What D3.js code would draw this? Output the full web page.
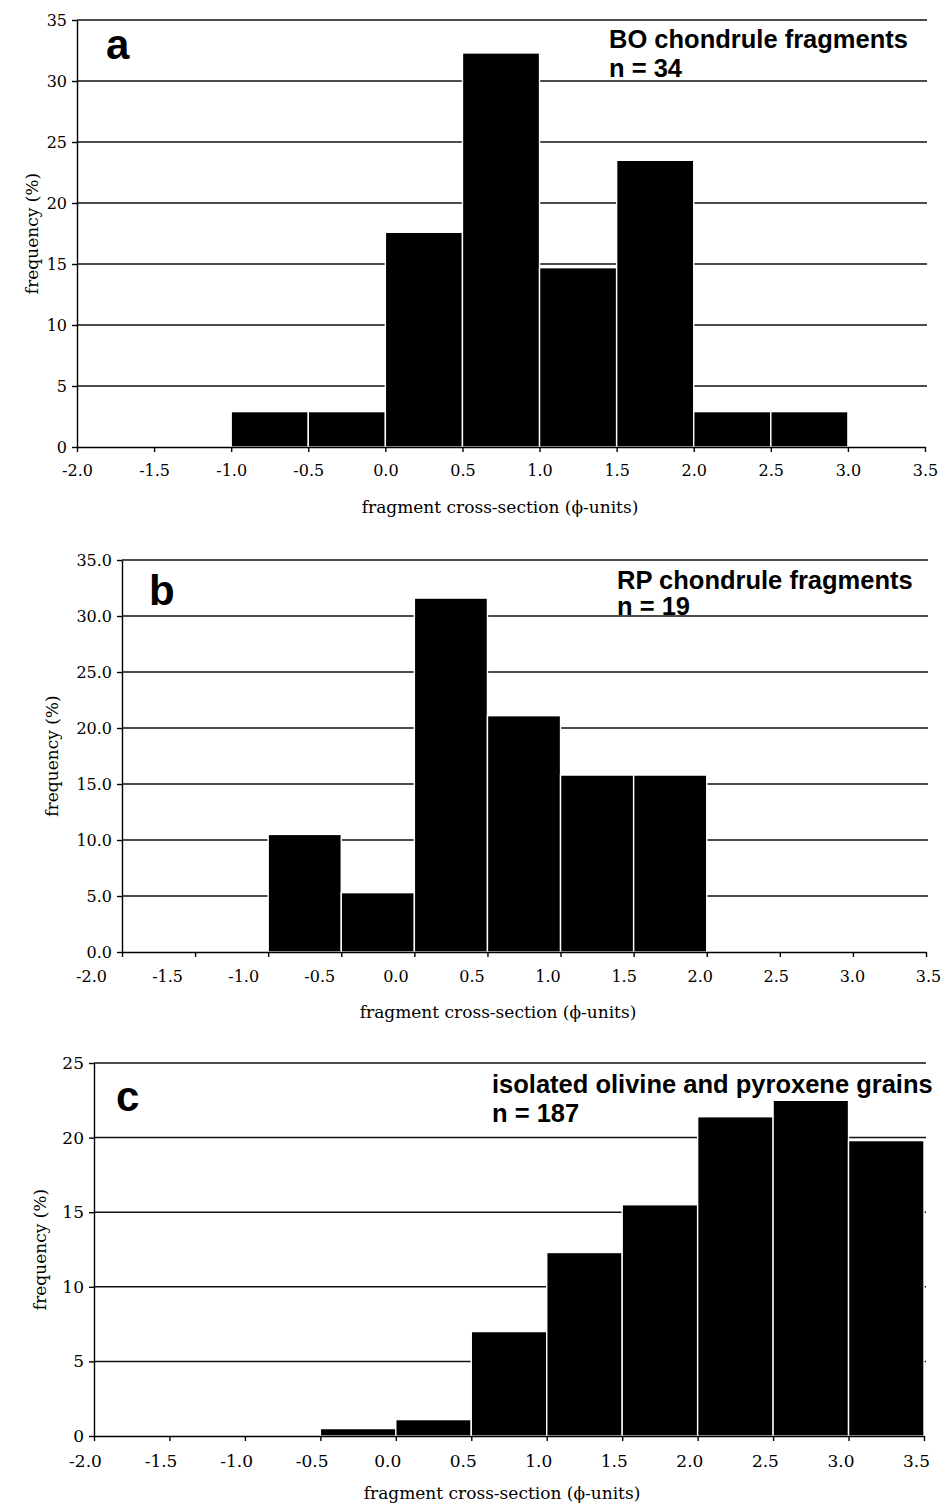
<!DOCTYPE html>
<html>
<head>
<meta charset="utf-8">
<script src="https://cdn.jsdelivr.net/npm/d3@7"></script>
<style>
  body { margin: 0; background: white; }
  svg { display: block; }
</style>
</head>
<body>
<script>
// bin lower edges (phi-units) and frequencies (%)
var binWidth = 0.5;
var binsA = [-1.0, -0.5, 0.0, 0.5, 1.0, 1.5, 2.0, 2.5];
var freqA = [2.9, 2.9, 17.6, 32.3, 14.7, 23.5, 2.9, 2.9];
var binsB = [-1.0, -0.5, 0.0, 0.5, 1.0, 1.5];
var freqB = [10.5, 5.3, 31.6, 21.1, 15.8, 15.8];
var binsC = [-0.5, 0.0, 0.5, 1.0, 1.5, 2.0, 2.5, 3.0];
var freqC = [0.5, 1.1, 7.0, 12.3, 15.5, 21.4, 22.5, 19.8];

var xTicks = [-2.0, -1.5, -1.0, -0.5, 0.0, 0.5, 1.0, 1.5, 2.0, 2.5, 3.0, 3.5];
var yTicksA = [0, 5, 10, 15, 20, 25, 30, 35];
var yTicksB = [0, 5, 10, 15, 20, 25, 30, 35];
var yTicksC = [0, 5, 10, 15, 20, 25];

var xTitle = "fragment cross-section (\u03d5-units)";
var yTitle = "frequency (%)";

var width = 943, height = 1510;
var serif = "'DejaVu Serif', serif";
var sans = "'Liberation Sans', Arial, sans-serif";

// plain hyphen for negatives, like the original
function fmt(spec) {
  var f = d3.format(spec);
  return function(d) { return f(d).replace("\u2212", "-"); };
}

var svg = d3.select("body").append("svg")
  .attr("width", width)
  .attr("height", height)
  .style("background", "white");

var panels = [
  {bins: binsA, freq: freqA, yTicks: yTicksA, yFmt: "d",
   left: 77, right: 925, top: 20, bottom: 447, labShift: [0, 0],
   tickFont: 16, titleFont: 17, yTitleX: 38, xTitleY: 513, xTitleX: 500, xPad: 13,
   letter: "a", letterX: 106, letterY: 59,
   note: ["BO chondrule fragments", "n = 34"], noteX: 609, noteY: [48, 77]},
  {bins: binsB, freq: freqB, yTicks: yTicksB, yFmt: ".1f",
   left: 122, right: 926, top: 560, bottom: 952, labShift: [-31, 2],
   tickFont: 16, titleFont: 17, yTitleX: 58, xTitleY: 1018, xTitleX: 498, xPad: 14,
   letter: "b", letterX: 149, letterY: 605,
   note: ["RP chondrule fragments", "n = 19"], noteX: 617, noteY: [589, 615]},
  {bins: binsC, freq: freqC, yTicks: yTicksC, yFmt: "d",
   left: 94, right: 924, top: 1063, bottom: 1436, labShift: [-9, -8],
   tickFont: 17, titleFont: 17, yTitleX: 46, xTitleY: 1499, xTitleX: 502, xPad: 14,
   letter: "c", letterX: 116, letterY: 1111,
   note: ["isolated olivine and pyroxene grains", "n = 187"], noteX: 492, noteY: [1093, 1122]}
];

panels.forEach(function(p) {
  var g = svg.append("g");

  var x = d3.scaleLinear().domain([-2, 3.5]).range([p.left, p.right]);
  var y = d3.scaleLinear().domain([0, d3.max(p.yTicks)]).range([p.bottom, p.top]);
  // tick labels in the scan sit slightly off their ticks
  var xl = d3.scaleLinear().domain([-2, 3.5]).range([p.left + p.labShift[0], p.right + p.labShift[1]]);

  // gridlines
  g.selectAll(".grid")
    .data(p.yTicks.filter(function(d) { return d > 0; }))
    .enter().append("line")
    .attr("class", "grid")
    .attr("x1", p.left).attr("x2", p.right + 2)
    .attr("y1", function(d) { return y(d); })
    .attr("y2", function(d) { return y(d); })
    .attr("stroke", "#111")
    .attr("stroke-width", 1.5);

  // bars
  var data = p.bins.map(function(b, i) { return {x0: b, v: p.freq[i]}; });
  g.selectAll(".bar")
    .data(data)
    .enter().append("rect")
    .attr("class", "bar")
    .attr("x", function(d) { return x(d.x0); })
    .attr("width", function(d) { return x(d.x0 + binWidth) - x(d.x0); })
    .attr("y", function(d) { return y(d.v); })
    .attr("height", function(d) { return y(0) - y(d.v); })
    .attr("fill", "#000")
    .attr("stroke", "#fff")
    .attr("stroke-width", 1.4);

  // x axis
  var xAxis = g.append("g")
    .attr("transform", "translate(0," + p.bottom + ")")
    .call(d3.axisBottom(x).tickValues(xTicks).tickSize(5).tickSizeOuter(0)
      .tickPadding(p.xPad).tickFormat(fmt(".1f")));
  xAxis.selectAll("text")
    .attr("x", function(d) { return xl(d) - x(d); })
    .style("font-family", serif).style("font-size", p.tickFont + "px").attr("fill", "#000");
  xAxis.selectAll("line, path").attr("stroke", "#000").attr("stroke-width", 1.4);

  // y axis
  var yAxis = g.append("g")
    .attr("transform", "translate(" + p.left + ",0)")
    .call(d3.axisLeft(y).tickValues(p.yTicks).tickSize(5).tickSizeOuter(0)
      .tickPadding(5).tickFormat(fmt(p.yFmt)));
  yAxis.selectAll("text")
    .style("font-family", serif).style("font-size", p.tickFont + "px").attr("fill", "#000");
  yAxis.selectAll("line, path").attr("stroke", "#000").attr("stroke-width", 1.4);

  // axis titles
  g.append("text")
    .attr("x", p.xTitleX).attr("y", p.xTitleY)
    .attr("text-anchor", "middle")
    .style("font-family", serif).style("font-size", p.titleFont + "px")
    .text(xTitle);
  g.append("text")
    .attr("transform", "translate(" + p.yTitleX + "," + ((p.top + p.bottom) / 2) + ") rotate(-90)")
    .attr("text-anchor", "middle")
    .style("font-family", serif).style("font-size", p.titleFont + "px")
    .text(yTitle);

  // panel letter and note
  g.append("text")
    .attr("x", p.letterX).attr("y", p.letterY)
    .style("font-family", sans).style("font-weight", "bold").style("font-size", "42px")
    .text(p.letter);
  g.selectAll(".note")
    .data(p.note)
    .enter().append("text")
    .attr("class", "note")
    .attr("x", p.noteX)
    .attr("y", function(d, i) { return p.noteY[i]; })
    .style("font-family", sans).style("font-weight", "bold").style("font-size", "25.5px")
    .text(function(d) { return d; });
});
</script>
</body>
</html>
